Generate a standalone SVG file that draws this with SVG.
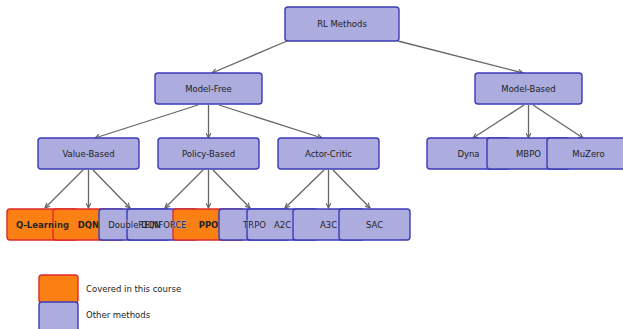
<svg xmlns="http://www.w3.org/2000/svg" xmlns:xlink="http://www.w3.org/1999/xlink" width="623" height="329" viewBox="0 0 623 329">
<style>
.b{fill:#acacde;stroke:#3a3ab8;stroke-width:1.4}
.c{fill:#fb8013;stroke:#e02a2a;stroke-width:1.4}
.t{font-family:"DejaVu Sans",Verdana,sans-serif;font-size:8.5px;fill:#222;text-anchor:middle;dominant-baseline:central}
.bold{font-weight:bold}
.lg{font-family:"DejaVu Sans",Verdana,sans-serif;font-size:8.5px;fill:#222;dominant-baseline:central}
.e{stroke:#666;stroke-width:1.3;fill:none;marker-end:url(#ah)}
.mu{stroke:#000;stroke-width:0.9;fill:#000}
</style>
<defs>
<marker id="ah" markerUnits="userSpaceOnUse" viewBox="0 0 6 6" refX="5.4" refY="3" markerWidth="6" markerHeight="6" orient="auto">
<path d="M0.5,0.6 L5.4,3 L0.5,5.4" fill="none" stroke="#666" stroke-width="1.2"/>
</marker>
<mask id="m-dqn" maskUnits="userSpaceOnUse" x="0" y="0" width="623" height="329"><rect width="623" height="329" fill="#fff"/><use class="mu" xlink:href="#t-ql"/></mask>
<mask id="m-ddqn" maskUnits="userSpaceOnUse" x="0" y="0" width="623" height="329"><rect width="623" height="329" fill="#fff"/><use class="mu" xlink:href="#t-dqn"/></mask>
<mask id="m-rein" maskUnits="userSpaceOnUse" x="0" y="0" width="623" height="329"><rect width="623" height="329" fill="#fff"/><use class="mu" xlink:href="#t-ddqn"/></mask>
<mask id="m-ppo" maskUnits="userSpaceOnUse" x="0" y="0" width="623" height="329"><rect width="623" height="329" fill="#fff"/><use class="mu" xlink:href="#t-rein"/></mask>
<mask id="m-trpo" maskUnits="userSpaceOnUse" x="0" y="0" width="623" height="329"><rect width="623" height="329" fill="#fff"/><use class="mu" xlink:href="#t-ppo"/></mask>
<mask id="m-a2c" maskUnits="userSpaceOnUse" x="0" y="0" width="623" height="329"><rect width="623" height="329" fill="#fff"/><use class="mu" xlink:href="#t-trpo"/></mask>
</defs>
<rect width="623" height="329" fill="#fff"/>
<g id="connectors">
<line class="e" x1="287" y1="41" x2="212" y2="73"/>
<line class="e" x1="398" y1="41" x2="523" y2="73"/>
<line class="e" x1="198" y1="105" x2="95" y2="138"/>
<line class="e" x1="208.5" y1="105" x2="208.5" y2="138"/>
<line class="e" x1="219" y1="105" x2="322" y2="138"/>
<line class="e" x1="524" y1="105" x2="473" y2="138"/>
<line class="e" x1="528.5" y1="105" x2="528.5" y2="138"/>
<line class="e" x1="533" y1="105" x2="583" y2="138"/>
<line class="e" x1="83" y1="170" x2="45" y2="208"/>
<line class="e" x1="88.5" y1="170" x2="88.5" y2="208"/>
<line class="e" x1="93" y1="170" x2="130" y2="208"/>
<line class="e" x1="203" y1="170" x2="165" y2="208"/>
<line class="e" x1="208.5" y1="170" x2="208.5" y2="208"/>
<line class="e" x1="213" y1="170" x2="250" y2="208"/>
<line class="e" x1="324" y1="170" x2="285" y2="208"/>
<line class="e" x1="328.5" y1="170" x2="328.5" y2="208"/>
<line class="e" x1="333" y1="170" x2="370" y2="208"/>
</g>
<g id="n-root"><rect class="b" x="285" y="7" width="114" height="34" rx="3"/><text class="t" x="342" y="24">RL Methods</text></g>
<g id="n-modelfree"><rect class="b" x="155" y="73" width="107" height="31" rx="3"/><text class="t" x="208.5" y="88.5">Model-Free</text></g>
<g id="n-modelbased"><rect class="b" x="475" y="73" width="107" height="31" rx="3"/><text class="t" x="528.5" y="88.5">Model-Based</text></g>
<g id="n-valuebased"><rect class="b" x="38" y="138" width="101" height="31" rx="3"/><text class="t" x="88.5" y="153.5">Value-Based</text></g>
<g id="n-policybased"><rect class="b" x="158" y="138" width="101" height="31" rx="3"/><text class="t" x="208.5" y="153.5">Policy-Based</text></g>
<g id="n-actorcritic"><rect class="b" x="278" y="138" width="101" height="31" rx="3"/><text class="t" x="328.5" y="153.5">Actor-Critic</text></g>
<g id="n-dyna"><rect class="b" x="427" y="138" width="83" height="31" rx="3"/><text class="t" x="468.5" y="153.5">Dyna</text></g>
<g id="n-mbpo"><rect class="b" x="487" y="138" width="83" height="31" rx="3"/><text class="t" x="528.5" y="153.5">MBPO</text></g>
<g id="n-muzero"><rect class="b" x="547" y="138" width="83" height="31" rx="3"/><text class="t" x="588.5" y="153.5">MuZero</text></g>
<g id="n-qlearning"><rect class="c" x="7" y="209" width="71" height="31" rx="3"/><text id="t-ql" class="t bold" x="42.5" y="224.5">Q-Learning</text></g>
<g id="n-dqn"><rect class="c" x="53" y="209" width="71" height="31" rx="3" mask="url(#m-dqn)"/><text id="t-dqn" class="t bold" x="88.5" y="224.5">DQN</text></g>
<g id="n-doubledqn"><rect class="b" x="99" y="209" width="71" height="31" rx="3" mask="url(#m-ddqn)"/><text id="t-ddqn" class="t" x="134.5" y="224.5">Double DQN</text></g>
<g id="n-reinforce"><rect class="b" x="127" y="209" width="71" height="31" rx="3" mask="url(#m-rein)"/><text id="t-rein" class="t" x="162.5" y="224.5">REINFORCE</text></g>
<g id="n-ppo"><rect class="c" x="173" y="209" width="71" height="31" rx="3" mask="url(#m-ppo)"/><text id="t-ppo" class="t bold" x="208.5" y="224.5">PPO</text></g>
<g id="n-trpo"><rect class="b" x="219" y="209" width="71" height="31" rx="3" mask="url(#m-trpo)"/><text id="t-trpo" class="t" x="254.5" y="224.5">TRPO</text></g>
<g id="n-a2c"><rect class="b" x="247" y="209" width="71" height="31" rx="3" mask="url(#m-a2c)"/><text class="t" x="282.5" y="224.5">A2C</text></g>
<g id="n-a3c"><rect class="b" x="293" y="209" width="71" height="31" rx="3"/><text class="t" x="328.5" y="224.5">A3C</text></g>
<g id="n-sac"><rect class="b" x="339" y="209" width="71" height="31" rx="3"/><text class="t" x="374.5" y="224.5">SAC</text></g>
<g id="legend">
<rect class="c" x="39" y="275" width="39" height="28" rx="3"/>
<rect class="b" x="39" y="302" width="39" height="32" rx="3"/>
<text class="lg" x="86" y="289">Covered in this course</text>
<text class="lg" x="86" y="315">Other methods</text>
</g>
</svg>
